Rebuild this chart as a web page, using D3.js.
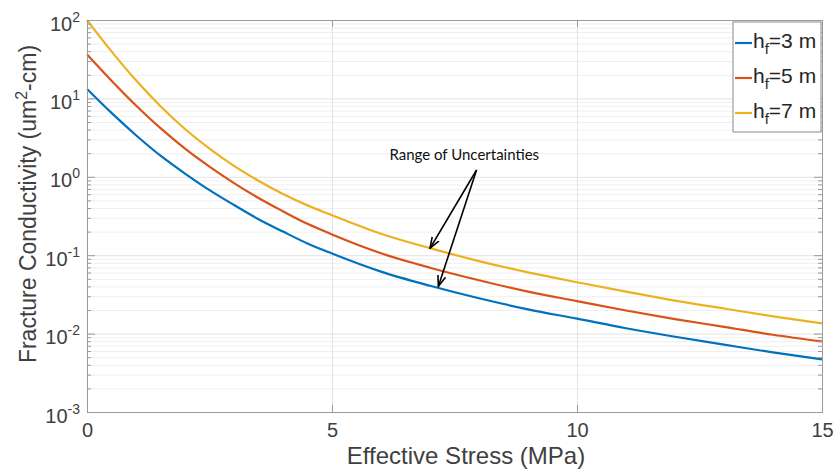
<!DOCTYPE html>
<html><head><meta charset="utf-8">
<script src="https://cdn.jsdelivr.net/npm/d3@7"></script>
<style>body{margin:0;background:#fff}svg{display:block}</style>
</head><body>
<svg id="c" width="835" height="471"></svg>
<script>
// Effective stress (MPa)
const stress = [0,0.5,1,1.5,2,2.5,3,3.5,4,4.5,5,6,7,8,9,10,11,12,13,14,15];
// Fracture conductivity (um^2-cm)
const hf3 = [13.2,6.53,3.39,1.86,1.10,0.676,0.437,0.288,0.200,0.141,0.105,0.0617,0.0407,0.0282,0.0204,0.0155,0.0117,0.00912,0.00724,0.00575,0.00468];
const hf5 = [36.3,16.8,8.13,4.17,2.29,1.35,0.832,0.537,0.363,0.251,0.184,0.106,0.0692,0.0479,0.0343,0.0260,0.0197,0.0153,0.0122,0.00966,0.00794];
const hf7 = [100,39.8,17.0,7.94,4.07,2.29,1.38,0.891,0.603,0.432,0.324,0.188,0.123,0.0841,0.0603,0.0452,0.0343,0.0263,0.0209,0.0166,0.0135];
const legendLabels = ["=3 m","=5 m","=7 m"];
const xTicks = [0,5,10,15];
const yExps = [-3,-2,-1,0,1,2];
const annText = "Range of Uncertainties";
// annotation in data coords: tail, heads
const annTail = [7.95,1.22];
const annHeads = [[7.0,0.1225],[7.17,0.040]];
const annLabelPos = [7.7,1.64];

const colors = ["#0072BD","#D95319","#EDB120"];
const series = [hf3,hf5,hf7];

const svg = d3.select("#c");
const m = {l:87, r:13, t:20, b:59};
const W = 835, H = 471;
const x = d3.scaleLinear().domain([0,15]).range([m.l, W-m.r]);
const y = d3.scaleLog().domain([1e-3,1e2]).range([H-m.b, m.t]);

const minorY = [];
yExps.slice(0,-1).forEach(e=>{for(let k=2;k<=9;k++) minorY.push(k*Math.pow(10,e));});
const majorY = yExps.map(e=>Math.pow(10,e));

const grid = svg.append("g");
grid.append("g").attr("transform",`translate(${m.l},0)`)
  .call(d3.axisLeft(y).tickValues(minorY).tickSize(-(W-m.l-m.r)).tickFormat(""))
  .call(g=>{g.select(".domain").remove(); g.selectAll("line").attr("stroke","#efefef");});
grid.append("g").attr("transform",`translate(${m.l},0)`)
  .call(d3.axisLeft(y).tickValues(majorY).tickSize(-(W-m.l-m.r)).tickFormat(""))
  .call(g=>{g.select(".domain").remove(); g.selectAll("line").attr("stroke","#e3e3e3");});
grid.append("g").attr("transform",`translate(0,${H-m.b})`)
  .call(d3.axisBottom(x).tickValues(xTicks).tickSize(-(H-m.t-m.b)).tickFormat(""))
  .call(g=>{g.select(".domain").remove(); g.selectAll("line").attr("stroke","#e3e3e3");});

// curves
const line = d3.line().x((d,i)=>x(stress[i])).y(d=>y(d)).curve(d3.curveMonotoneX);
series.forEach((s,i)=>{
  svg.append("path").datum(s).attr("d",line).attr("fill","none")
    .attr("stroke",colors[i]).attr("stroke-width",2.2);
});

// axes
const axCol = "#9a9a9a", txtCol = "#404040";
const FF = "'Liberation Sans',Arial,sans-serif";
function styleAxis(g){ g.selectAll(".domain").attr("stroke",axCol); g.selectAll("line").attr("stroke",axCol); }
const left = svg.append("g").attr("transform",`translate(${m.l},0)`);
left.append("g").call(d3.axisLeft(y).tickValues(minorY).tickSize(-4).tickFormat("")).call(styleAxis);
left.append("g").call(d3.axisLeft(y).tickValues(majorY).tickSize(-8).tickFormat(""))
  .call(styleAxis)
  .call(g=>{
    g.selectAll(".tick").each(function(d){
      const t = d3.select(this).append("text").attr("x",-7).attr("y",10)
        .attr("text-anchor","end").attr("fill",txtCol)
        .style("font-family",FF).style("font-size","20px");
      t.append("tspan").text("10");
      t.append("tspan").attr("dy",-9).style("font-size","14px").text(String(Math.round(Math.log10(d))));
    });
  });
const right = svg.append("g").attr("transform",`translate(${W-m.r},0)`);
right.append("g").call(d3.axisRight(y).tickValues(minorY).tickSize(-4).tickFormat("")).call(styleAxis);
right.append("g").call(d3.axisRight(y).tickValues(majorY).tickSize(-8).tickFormat("")).call(styleAxis);
svg.append("g").attr("transform",`translate(0,${H-m.b})`)
  .call(d3.axisBottom(x).tickValues(xTicks).tickSize(-7).tickFormat(d3.format("d")))
  .call(styleAxis)
  .call(g=>g.selectAll("text").attr("fill",txtCol).attr("dy",null).attr("y",25)
     .style("font-family",FF).style("font-size","20px"));
svg.append("g").attr("transform",`translate(0,${m.t})`)
  .call(d3.axisTop(x).tickValues(xTicks).tickSize(-7).tickFormat(""))
  .call(styleAxis);

// axis labels
svg.append("text").attr("x",466).attr("y",464).attr("text-anchor","middle").attr("fill",txtCol)
  .style("font-family",FF).style("font-size","24px")
  .text("Effective Stress (MPa)");
const yl = svg.append("text").attr("transform","translate(36,204) rotate(-90)").attr("text-anchor","middle").attr("fill",txtCol)
  .style("font-family",FF).style("font-size","23px");
yl.append("tspan").text("Fracture Conductivity (um");
yl.append("tspan").attr("dy",-9).style("font-size","16px").text("2");
yl.append("tspan").attr("dy",9).text("-cm)");

// legend
const lg = svg.append("g");
lg.append("rect").attr("x",733).attr("y",22).attr("width",88).attr("height",110)
  .attr("fill","#fff").attr("stroke","#8a8a8a").attr("stroke-width",1);
legendLabels.forEach((lab,i)=>{
  const cy = 43 + i*35;
  lg.append("line").attr("x1",735).attr("x2",752).attr("y1",cy).attr("y2",cy)
    .attr("stroke",colors[i]).attr("stroke-width",2.2);
  const t = lg.append("text").attr("x",753).attr("y",cy+5).attr("fill","#262626")
    .style("font-family",FF).style("font-size","21px");
  t.append("tspan").text("h");
  t.append("tspan").attr("dy",6).style("font-size","15px").text("f");
  t.append("tspan").attr("dy",-6).text(lab);
});

// annotation
const defs = svg.append("defs");
defs.append("marker").attr("id","ah").attr("viewBox","0 0 12 10").attr("refX",11).attr("refY",5)
  .attr("markerWidth",12).attr("markerHeight",10).attr("markerUnits","userSpaceOnUse").attr("orient","auto")
  .append("path").attr("d","M0,1 L11,5 L0,9").attr("fill","none").attr("stroke","#000").attr("stroke-width",1.6);
annHeads.forEach(h=>{
  svg.append("line").attr("x1",x(annTail[0])).attr("y1",y(annTail[1]))
    .attr("x2",x(h[0])).attr("y2",y(h[1])).attr("stroke","#000").attr("stroke-width",1.6)
    .attr("marker-end","url(#ah)");
});
svg.append("text").attr("x",x(annLabelPos[0])).attr("y",y(annLabelPos[1])).attr("text-anchor","middle")
  .attr("fill","#111").style("font-family","Lato,'Open Sans',sans-serif").style("font-size","15px")
  .text(annText);
</script>
</body></html>
